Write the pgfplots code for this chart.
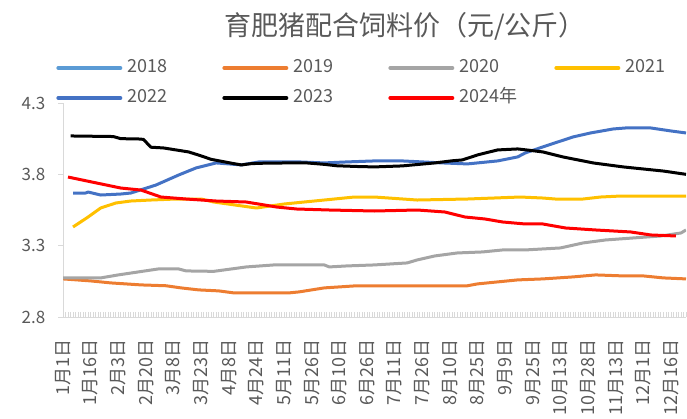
\documentclass[border=0pt]{standalone}
\usepackage{pgfplots}
\pgfplotsset{compat=1.18}
\usepackage{fontspec}
\setmainfont{Noto Sans CJK SC}
\definecolor{c18}{HTML}{5B9BD5}
\definecolor{c19}{HTML}{ED7D31}
\definecolor{c20}{HTML}{A5A5A5}
\definecolor{c21}{HTML}{FFC000}
\definecolor{c22}{HTML}{4472C4}
\definecolor{c23}{HTML}{000000}
\definecolor{c24}{HTML}{FF0000}
\definecolor{tgray}{HTML}{595959}
\definecolor{axgray}{HTML}{D9D9D9}
\begin{document}
\begin{tikzpicture}[x=1pt,y=1pt]
\useasboundingbox (0,0) rectangle (687,418);
\node[font=\fontsize{27}{30}\selectfont,text=tgray] at (405,392) {育肥猪配合饲料价（元/公斤）};
\begin{axis}[
  at={(63pt,101pt)}, anchor=south west, scale only axis,
  width=623pt, height=214pt,
  xmin=0, xmax=248, ymin=2.8, ymax=4.3,
  axis x line*=bottom, axis y line*=left,
  axis line style={draw=axgray,line width=1pt,-},
  ytick={2.8,3.3,3.8,4.3}, yticklabels={2.8,3.3,3.8,4.3},
  xtick={0,11,...,242},
  xticklabels={1月1日,1月16日,2月3日,2月20日,3月8日,3月23日,4月8日,4月24日,5月11日,5月26日,6月10日,6月26日,7月11日,7月26日,8月10日,8月25日,9月9日,9月25日,10月13日,10月28日,11月13日,12月1日,12月16日},
  minor xtick={0,1,...,248},
  tick align=center, major tick length=5pt, minor tick length=5pt,
  x tick style={yshift=2.5pt,draw=axgray,line width=0.8pt},
  y tick style={xshift=-2.5pt,draw=axgray,line width=0.8pt},
  yticklabel style={font=\fontsize{17}{17}\selectfont, text=tgray, anchor=east, inner sep=0pt},
  yticklabel shift=15pt,
  xticklabel style={rotate=90, anchor=east, inner sep=0pt, font=\fontsize{18}{18}\selectfont, text=tgray},
  xticklabel shift=20pt,
  every axis plot/.append style={line width=3pt, line join=round, mark=none},
  legend columns=4,
  legend style={at={(axis description cs:-0.011,1.0935)}, anchor=west, draw=none, fill=none, inner sep=0pt,
    row sep=10pt, column sep=0pt, font=\fontsize{18}{18}\selectfont, text=tgray,
    nodes={inner sep=2pt, text height=13pt, text depth=3pt}},
  legend image code/.code={\draw[#1,line width=4pt,line cap=round] (0pt,0pt) -- (62pt,0pt);},
]
\addlegendimage{c18}
\addlegendentry{\hspace{3pt}\makebox[93pt][l]{2018}}
\addplot[c19] coordinates {(0,3.067)(11,3.053)(19,3.039)(31,3.025)(41,3.019)(47,3.004)(54,2.990)(62,2.983)(68,2.969)(90,2.969)(94,2.976)(104,3.004)(117,3.019)(161,3.019)(165,3.032)(173,3.046)(181,3.060)(191,3.067)(203,3.081)(212,3.095)(223,3.088)(231,3.088)(239,3.074)(248,3.067)};
\addlegendentry{\hspace{3pt}\makebox[93pt][l]{2019}}
\addplot[c20] coordinates {(0,3.074)(15,3.074)(22,3.095)(30,3.116)(38,3.137)(46,3.137)(49,3.123)(60,3.120)(73,3.151)(84,3.165)(104,3.165)(106,3.151)(113,3.158)(124,3.165)(137,3.179)(141,3.200)(148,3.228)(157,3.249)(167,3.256)(175,3.270)(184,3.270)(198,3.284)(207,3.319)(216,3.340)(227,3.354)(238,3.368)(246,3.389)(248,3.410)};
\addlegendentry{\hspace{3pt}\makebox[93pt][l]{2020}}
\addplot[c21] coordinates {(4,3.431)(10,3.501)(15,3.564)(21,3.599)(27,3.613)(35,3.620)(45,3.627)(55,3.627)(60,3.606)(77,3.564)(88,3.592)(104,3.620)(116,3.641)(124,3.641)(141,3.620)(161,3.627)(182,3.641)(191,3.634)(196,3.627)(207,3.627)(214,3.641)(222,3.648)(248,3.648)};
\addlegendentry{\hspace{3pt}\makebox[93pt][l]{2021}}
\addplot[c22] coordinates {(4,3.669)(9,3.669)(10,3.676)(15,3.655)(23,3.662)(27,3.669)(37,3.725)(46,3.795)(53,3.845)(61,3.880)(71,3.866)(78,3.887)(94,3.887)(104,3.880)(113,3.887)(124,3.894)(135,3.894)(151,3.880)(161,3.873)(173,3.894)(181,3.922)(184,3.950)(191,3.992)(203,4.062)(210,4.090)(219,4.118)(224,4.125)(234,4.125)(242,4.104)(248,4.090)};
\addlegendentry{\hspace{3pt}\makebox[93pt][l]{2022}}
\addplot[c23] coordinates {(3,4.069)(20,4.065)(23,4.050)(30,4.048)(32,4.045)(35,3.990)(40,3.985)(45,3.971)(50,3.957)(54,3.935)(59,3.905)(62,3.895)(68,3.875)(71,3.866)(75,3.875)(80,3.878)(90,3.880)(97,3.880)(104,3.870)(109,3.860)(117,3.855)(124,3.852)(135,3.859)(148,3.880)(155,3.895)(159,3.901)(165,3.936)(173,3.971)(181,3.978)(186,3.968)(191,3.957)(199,3.922)(211,3.880)(223,3.852)(239,3.823)(248,3.800)};
\addlegendentry{\hspace{3pt}\makebox[93pt][l]{2023}}
\addplot[c24] coordinates {(2,3.781)(23,3.704)(31,3.690)(39,3.641)(49,3.627)(61,3.613)(73,3.606)(85,3.571)(93,3.557)(106,3.550)(124,3.543)(141,3.550)(152,3.536)(160,3.501)(168,3.487)(175,3.466)(184,3.452)(191,3.452)(200,3.424)(212,3.410)(226,3.396)(234,3.375)(244,3.368)};
\addlegendentry{\hspace{3pt}\makebox[93pt][l]{2024年}}
\end{axis}
\end{tikzpicture}
\end{document}
